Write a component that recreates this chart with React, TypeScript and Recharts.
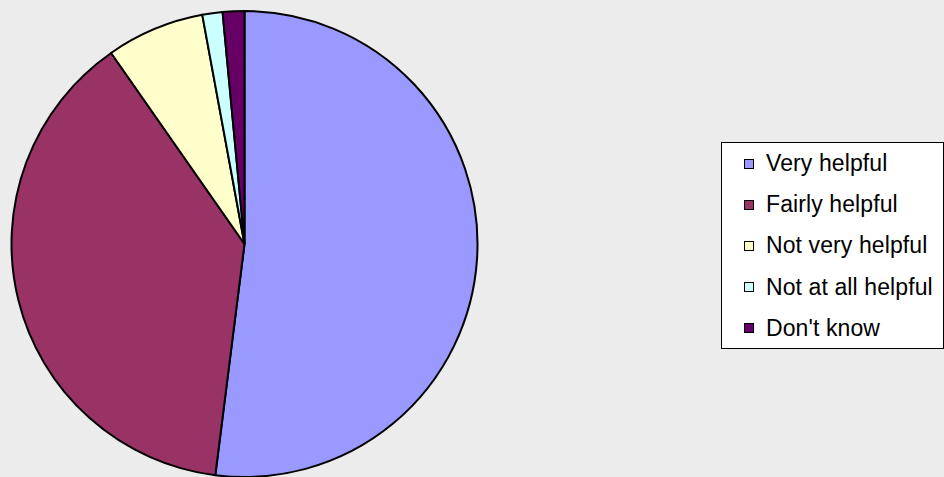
import React from 'react';
import { PieChart, Pie, Cell, Legend } from 'recharts';

const categories = ['Very helpful', 'Fairly helpful', 'Not very helpful', 'Not at all helpful', "Don't know"];
const values = [52.0, 38.3, 6.8, 1.4, 1.5];
const colors = ['#9999FF', '#993366', '#FFFFCC', '#CCFFFF', '#660066'];

const data = categories.map((name, i) => ({ name, value: values[i] }));

const renderLegend = () => (
  <div
    style={{
      boxSizing: 'border-box',
      width: 223,
      height: 207,
      border: '1px solid #000',
      background: '#FFFFFF',
      paddingTop: 0,
      paddingLeft: 22,
      fontFamily: '"Liberation Sans", Arial, sans-serif',
      fontSize: 23,
      letterSpacing: 0.1,
      color: '#000',
      whiteSpace: 'nowrap',
      overflow: 'hidden',
    }}
  >
    {categories.map((c, i) => (
      <div key={c} style={{ display: 'flex', alignItems: 'center', height: 41.2 }}>
        <span
          style={{
            display: 'inline-block',
            boxSizing: 'border-box',
            width: 10,
            height: 10,
            border: '1.5px solid #000',
            background: colors[i],
            marginRight: 12,
            flexShrink: 0,
          }}
        />
        <span>{c}</span>
      </div>
    ))}
  </div>
);

export default function App() {
  return (
    <div style={{ position: 'absolute', left: 0, top: 0, width: 944, height: 477, background: '#ECECEC', overflow: 'hidden' }}>
      <PieChart width={944} height={477} margin={{ top: 0, right: 0, bottom: 0, left: 0 }}>
        <Pie
          data={data}
          dataKey="value"
          nameKey="name"
          cx={244.5}
          cy={244}
          outerRadius={233}
          startAngle={90}
          endAngle={-270}
          stroke="#000"
          strokeWidth={2}
          isAnimationActive={false}
        >
          {data.map((d, i) => (
            <Cell key={d.name} fill={colors[i]} />
          ))}
        </Pie>
        <Legend
          content={renderLegend}
          wrapperStyle={{ position: 'absolute', left: 721, top: 142, width: 223, height: 207 }}
        />
      </PieChart>
    </div>
  );
}
